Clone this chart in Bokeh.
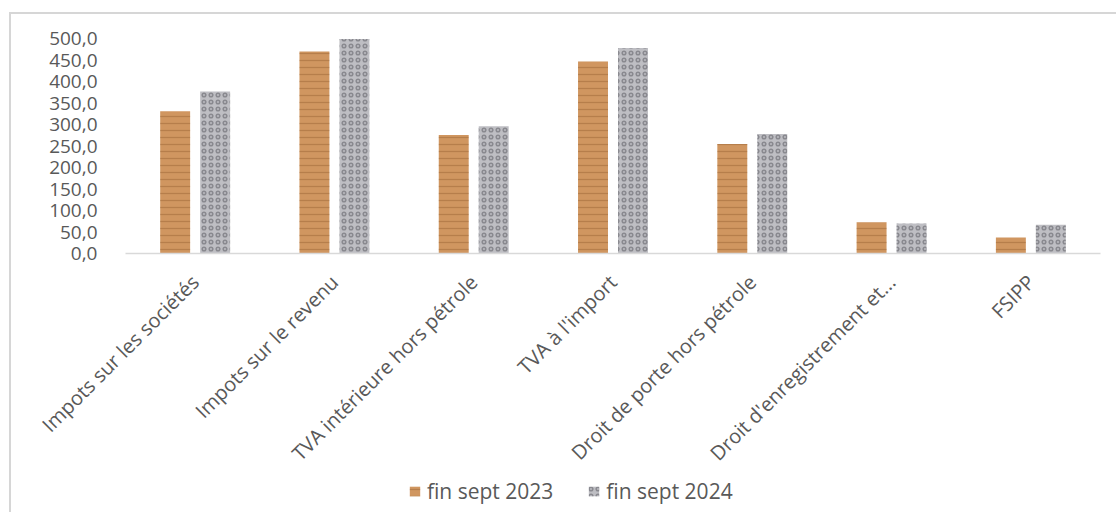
import math
from bokeh.plotting import figure
from bokeh.layouts import column
from bokeh.models import ColumnDataSource, FactorRange, Range1d, Legend, LegendItem, FixedTicker
from bokeh.transform import dodge
from bokeh.embed import file_html
from bokeh.resources import INLINE

categories = [
    "Impots sur les sociétés",
    "Impots sur le revenu",
    "TVA intérieure hors pétrole",
    "TVA à l'import",
    "Droit de porte hors pétrole",
    "Droit d'enregistrement et...",
    "FSIPP",
]
fin_sept_2023 = [331, 470, 276, 447, 255, 73, 37]
fin_sept_2024 = [377, 499, 296, 478, 278, 70, 67]
series_names = ["fin sept 2023", "fin sept 2024"]
y_ticks = [0, 50, 100, 150, 200, 250, 300, 350, 400, 450, 500]

font = "Open Sans"
grey = "#595959"
wood = dict(fill_color="#D09660", line_color=None,
            hatch_pattern="horizontal_line", hatch_color="#8E5A2B", hatch_alpha=0.40,
            hatch_scale=7, hatch_weight=1.3)
granite = dict(fill_color="#BEBEC3", line_color=None,
               hatch_pattern="ring", hatch_color="#66666C", hatch_alpha=0.60,
               hatch_scale=7, hatch_weight=1.6)

src = ColumnDataSource(dict(cat=categories, v23=fin_sept_2023, v24=fin_sept_2024))

p = figure(
    x_range=FactorRange(*categories),
    y_range=Range1d(0, 505),
    width=1105, height=456,
    frame_width=975, frame_height=217,
    min_border_left=114, min_border_right=16,
    min_border_top=22, min_border_bottom=217,
    output_backend="svg", toolbar_location=None,
)
p.outline_line_color = None
p.xgrid.grid_line_color = None
p.ygrid.grid_line_color = None

p.vbar(x=dodge("cat", -0.1435, range=p.x_range), top="v23", width=0.215, source=src, **wood)
p.vbar(x=dodge("cat", 0.1435, range=p.x_range), top="v24", width=0.215, source=src, **granite)

p.yaxis.ticker = FixedTicker(ticks=y_ticks)
p.yaxis.major_label_overrides = {v: f"{v:.1f}".replace(".", ",") for v in y_ticks}
p.yaxis.axis_line_color = None
p.yaxis.major_tick_line_color = None
p.yaxis.minor_tick_line_color = None
p.yaxis.major_label_standoff = 22
p.yaxis.major_label_text_font = font
p.yaxis.major_label_text_font_size = "19px"
p.yaxis.major_label_text_color = grey

p.xaxis.axis_line_color = "#D9D9D9"
p.xaxis.axis_line_width = 1.5
p.xaxis.major_tick_line_color = None
p.xaxis.minor_tick_line_color = None
p.xaxis.major_label_orientation = math.pi / 4
p.xaxis.major_label_standoff = 19
p.xaxis.major_label_text_font = font
p.xaxis.major_label_text_font_size = "20px"
p.xaxis.major_label_text_color = grey

# legend strip below the chart (its frame is aligned with the chart frame)
lg = figure(width=1105, height=42, x_range=Range1d(0, 1), y_range=Range1d(0, 1),
            min_border=0, x_axis_location=None, y_axis_location=None,
            output_backend="svg", toolbar_location=None)
lg.outline_line_color = None
lg.xgrid.grid_line_color = None
lg.ygrid.grid_line_color = None
keysrc = ColumnDataSource(dict(x=[5.0], top=[0.0]))
k1 = lg.vbar(x="x", top="top", width=0.1, source=keysrc, **wood)
k2 = lg.vbar(x="x", top="top", width=0.1, source=keysrc, **granite)
legend = Legend(
    items=[LegendItem(label=series_names[0], renderers=[k1]),
           LegendItem(label=series_names[1], renderers=[k2])],
    location=(283, 15), orientation="horizontal",
    glyph_width=13, glyph_height=12, label_standoff=6, spacing=34,
    padding=0, margin=0, border_line_color=None, background_fill_alpha=0,
    label_text_font=font, label_text_font_size="21px", label_text_color=grey,
)
lg.add_layout(legend, "center")

layout = column(p, lg, spacing=0)
layout.styles = {
    "margin-left": "9px",
    "margin-top": "12px",
    "border-top": "2px solid #d6d6d6",
    "border-left": "2px solid #d6d6d6",
}

open("out.html", "w").write(file_html(layout, INLINE))
